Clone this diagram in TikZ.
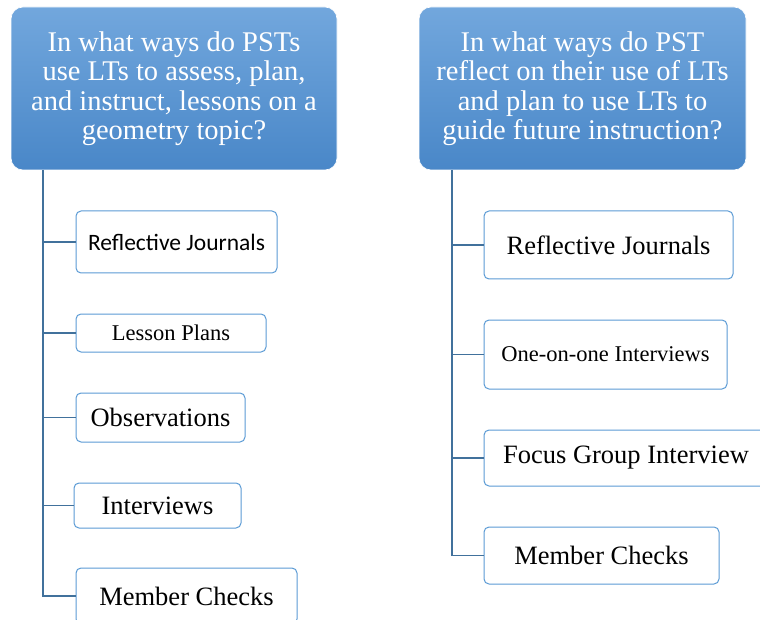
\documentclass[tikz,border=0pt]{standalone}
\usepackage{fontspec}
\setmainfont{Liberation Serif}
\newfontfamily\calibrifont{Carlito}
\definecolor{hdtop}{HTML}{72A7DD}
\definecolor{hdbot}{HTML}{4987C8}
\definecolor{boxline}{HTML}{5B9BD5}
\definecolor{spine}{HTML}{41719C}
\tikzset{
  header/.style={rounded corners=12pt, top color=hdtop, bottom color=hdbot, draw=white, line width=0.6pt,
    text=white, align=center, inner sep=0pt, font=\fontsize{28.5}{29.5}\selectfont},
  itembox/.style={rounded corners=5pt, draw=boxline, fill=white, line width=1pt, inner sep=0pt, align=center},
  big/.style={font=\fontsize{26.5}{30}\selectfont},
  small/.style={font=\fontsize{22.5}{26}\selectfont},
  link/.style={draw=spine, line width=1.2pt}
}
\begin{document}
\begin{tikzpicture}[x=1pt,y=-1pt]
\path[use as bounding box] (0,0) rectangle (760,620);
\clip (0,0) rectangle (760,620);
\fill[white] (0,0) rectangle (760,620);
% headers
\node[header, minimum width=326pt, minimum height=163pt] (lh) at (174,88.5)
  {In what ways do PSTs\\use LTs to assess, plan,\\and instruct, lessons on a\\geometry topic?};
\node[header, minimum width=327pt, minimum height=163pt] (rh) at (582.5,88.5)
  {In what ways do PST\\reflect on their use of LTs\\and plan to use LTs to\\guide future instruction?};
% left items
\node[itembox, minimum width=201pt, minimum height=62pt, font=\calibrifont\fontsize{23.5}{26}\selectfont] (l1) at (176.5,242) {Reflective Journals};
\node[itembox, small, minimum width=190pt, minimum height=38pt] (l2) at (171,333) {Lesson Plans};
\node[itembox, big, minimum width=169pt, minimum height=49pt] (l3) at (160.5,417.5) {Observations};
\node[itembox, big, minimum width=167pt, minimum height=45pt] (l4) at (157.5,505.5) {Interviews};
\node[itembox, big, minimum width=221pt, minimum height=56pt] (l5) at (186.5,596) {Member Checks};
% right items
\node[itembox, big, minimum width=249pt, minimum height=68pt] (r1) at (608.5,245) {Reflective Journals};
\node[itembox, small, minimum width=243pt, minimum height=69pt] (r2) at (605.5,354.5) {One-on-one Interviews};
\node[itembox, big, minimum width=284pt, minimum height=56pt] (r3) at (626,458) {Focus Group Interview};
\node[itembox, big, minimum width=235pt, minimum height=57pt] (r4) at (601.5,555.5) {Member Checks};
% spines
\coordinate (ls) at (43,170);
\coordinate (rs) at (452,170);
\draw[link] (ls) |- (l5.west);
\foreach \n in {l1,l2,l3,l4} \draw[link] (ls |- \n.west) -- (\n.west);
\draw[link] (rs) |- (r4.west);
\foreach \n in {r1,r2,r3} \draw[link] (rs |- \n.west) -- (\n.west);
\end{tikzpicture}
\end{document}
